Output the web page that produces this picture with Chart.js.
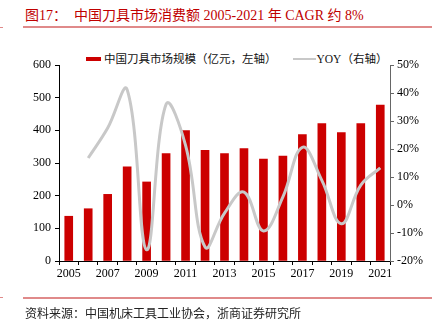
<!DOCTYPE html>
<html>
<head>
<meta charset="utf-8">
<script src="https://cdn.jsdelivr.net/npm/chart.js@4.4.1/dist/chart.umd.min.js"></script>
<style>
    body { margin: 0; background: #fff; }
    .wrap { position: relative; width: 438px; height: 330px; overflow: hidden;
        font-family: 'Liberation Serif', 'Noto Sans CJK SC', serif; }
    .title { position: absolute; left: 25px; top: 4px; font-size: 14px; color: #c00000; white-space: nowrap; }
    .rule { position: absolute; left: 23px; width: 409px; height: 2px; background: #e08a8a; }
    .mark { position: absolute; left: 0; width: 3px; height: 1px; background: #e08a8a; }
    .source { position: absolute; left: 25px; top: 304px; font-size: 12px; color: #222; white-space: nowrap; }
    .legend { position: absolute; top: 51px; left: 86px; font-size: 11.5px; line-height: 14px; color: #111; white-space: nowrap; }
    .legend span { display: inline-block; vertical-align: middle; }
    .sw-bar { width: 15px; height: 4px; background: #cc0000; margin-right: 3px; }
    .sw-line { width: 23px; height: 2px; background: #c8c8c8; margin-left: 16px; margin-right: 1px; }
    canvas { position: absolute; left: 0; top: 0; }
</style>
</head>
<body>
<div class="wrap">
    <div class="title">图17：&nbsp;&nbsp;中国刀具市场消费额 2005-2021 年 CAGR 约 8%</div>
    <div class="rule" style="top:26px"></div>
    <div class="mark" style="top:27px"></div>
    <div class="legend">
        <span class="sw-bar"></span><span>中国刀具市场规模（亿元，左轴）</span><span class="sw-line"></span><span>YOY（右轴）</span>
    </div>
    <canvas id="myChart" width="438" height="330"></canvas>
    <div class="rule" style="top:297px"></div>
    <div class="mark" style="top:297px"></div>
    <div class="source">资料来源：中国机床工具工业协会，浙商证券研究所</div>
</div>
<script>
const years = ['2005', '2006', '2007', '2008', '2009', '2010', '2011', '2012', '2013',
    '2014', '2015', '2016', '2017', '2018', '2019', '2020', '2021'];
// 市场规模（亿元）
const marketSize = [137, 160, 204, 288, 242, 329, 399, 339, 329, 344, 312, 321, 387, 421, 393, 421, 477];
// 同比增速（%），2005 年无数据
const yoy = [null, 16.8, 27.5, 41.2, -16.0, 36.0, 21.3, -15.0, -2.9, 4.6, -9.3, 2.9, 20.6, 8.8, -6.7, 7.1, 13.3];
const leftTicks = [0, 100, 200, 300, 400, 500, 600];
const rightTicks = [-20, -10, 0, 10, 20, 30, 40, 50];

const tickFont = { family: "'Liberation Serif', serif", size: 12 };

const ctx = document.getElementById('myChart');

new Chart(ctx, {
    data: {
        labels: years,
        datasets: [{
            type: 'line',
            label: 'YOY（右轴）',
            data: yoy,
            yAxisID: 'y1',
            borderColor: '#c8c8c8',
            borderWidth: 3,
            pointRadius: 0,
            tension: 0.4,
            spanGaps: false,
            order: 0
        }, {
            type: 'bar',
            label: '中国刀具市场规模（亿元，左轴）',
            data: marketSize,
            yAxisID: 'y',
            backgroundColor: '#cc0000',
            barThickness: 8,
            order: 1
        }]
    },
    options: {
        responsive: false,
        animation: false,
        layout: { padding: { top: 65, bottom: 49, left: 0, right: 0 } },
        scales: {
            x: {
                grid: { display: true, drawOnChartArea: false, tickLength: 4, color: '#000', offset: true },
                border: { display: true, color: '#000', width: 1 },
                ticks: {
                    font: tickFont,
                    color: '#000',
                    autoSkip: false,
                    maxRotation: 0,
                    padding: 2,
                    callback: function (value, index) {
                        return index % 2 === 0 ? years[index] : '';
                    }
                },
                afterFit: s => { s.height = 20; }
            },
            y: {
                position: 'left',
                min: 0,
                max: 600,
                afterBuildTicks: s => { s.ticks = leftTicks.map(v => ({ value: v })); },
                grid: { display: true, drawOnChartArea: false, tickLength: 4, color: '#000' },
                border: { display: true, color: '#000', width: 1 },
                ticks: { font: tickFont, color: '#000', padding: 4 },
                afterFit: s => { s.width = 59; }
            },
            y1: {
                position: 'right',
                min: -20,
                max: 50,
                afterBuildTicks: s => { s.ticks = rightTicks.map(v => ({ value: v })); },
                grid: { display: true, drawOnChartArea: false, tickLength: 4, color: '#666' },
                border: { display: true, color: '#666', width: 1 },
                ticks: {
                    font: tickFont,
                    color: '#000',
                    padding: 3,
                    callback: value => value + '%'
                },
                afterFit: s => { s.width = 48; }
            }
        },
        plugins: {
            legend: { display: false },
            tooltip: { enabled: false }
        }
    }
});
</script>
</body>
</html>
